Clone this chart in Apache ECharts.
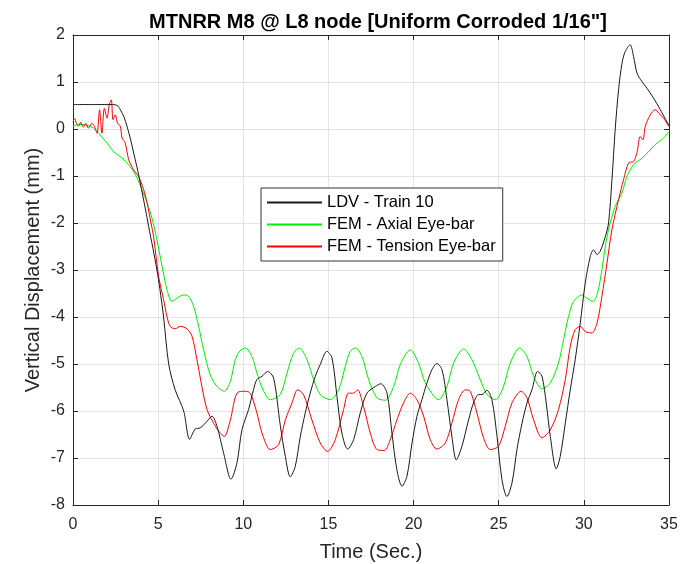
<!DOCTYPE html>
<html>
<head>
<meta charset="utf-8">
<script src="https://cdn.jsdelivr.net/npm/echarts@6/dist/echarts.min.js"></script>
<style>html,body{margin:0;padding:0;background:#fff}#c{width:692px;height:564px}</style>
</head>
<body>
<div id="c"></div>
<script>
var titleText = 'MTNRR M8 @ L8 node [Uniform Corroded 1/16"]';
var xName = 'Time (Sec.)';
var yName = 'Vertical Displacement (mm)';
var seriesNames = ['LDV - Train 10', 'FEM - Axial Eye-bar', 'FEM - Tension Eye-bar'];

var ldvT = [0,2.3,2.6,2.78,3.0,3.17,3.4,3.56,3.75,3.95,4.25,4.44,4.7,4.93,5.1,5.32,5.62,6.0,6.5,6.85,7.18,7.47,7.87,8.16,8.46,8.84,9.28,9.63,9.92,10.31,10.6,10.8,11.1,11.43,11.78,12.17,12.47,12.76,13.05,13.35,13.64,13.93,14.23,14.52,14.91,15.21,15.5,15.79,16.13,16.48,16.87,17.26,17.75,18.08,18.44,18.73,19.02,19.32,19.61,19.91,20.2,20.49,20.79,21.08,21.37,21.67,21.96,22.25,22.51,22.84,23.23,23.52,23.82,24.02,24.31,24.6,24.9,25.19,25.48,25.78,26.07,26.37,26.66,26.95,27.28,27.54,27.79,28.03,28.38,28.61,28.91,29.2,29.49,29.79,30.08,30.38,30.57,30.77,30.96,31.26,31.45,31.65,31.84,32.04,32.24,32.43,32.72,32.92,33.12,33.41,33.7,34.09,34.49,35.0];
var ldvV = [0.52,0.52,0.5,0.41,0.25,0.06,-0.25,-0.51,-0.8,-1.15,-1.7,-2.07,-2.55,-3.0,-3.4,-4.0,-5.0,-5.55,-6.0,-6.6,-6.38,-6.36,-6.22,-6.11,-6.33,-6.89,-7.45,-7.1,-6.4,-5.97,-5.55,-5.33,-5.26,-5.16,-5.3,-6.3,-6.97,-7.4,-7.18,-6.54,-6.04,-5.62,-5.26,-5.01,-4.73,-4.87,-5.69,-6.47,-6.81,-6.61,-6.04,-5.62,-5.48,-5.42,-5.62,-6.47,-7.25,-7.6,-7.39,-6.68,-6.11,-5.76,-5.4,-5.12,-4.99,-5.12,-5.76,-6.54,-7.04,-6.75,-6.19,-5.83,-5.65,-5.65,-5.56,-5.76,-6.54,-7.46,-7.82,-7.53,-6.82,-6.26,-5.83,-5.55,-5.16,-5.26,-5.83,-6.54,-7.23,-6.97,-6.26,-5.55,-4.91,-4.13,-3.28,-2.71,-2.57,-2.67,-2.6,-2.29,-2.0,-1.08,-0.01,0.84,1.4,1.65,1.79,1.54,1.19,1.01,0.87,0.66,0.41,0.07];

var axialT = [0,0.4,0.8,1.21,1.5,2.0,2.38,2.88,3.36,3.76,4.05,4.35,4.64,4.93,5.23,5.52,5.81,6.1,6.5,6.79,7.08,7.38,7.67,8.06,8.46,8.88,9.24,9.53,9.8,10.12,10.51,10.8,11.1,11.59,12.17,12.57,12.95,13.3,13.74,14.13,14.52,15.11,15.6,15.99,16.28,16.58,16.97,17.36,17.85,18.34,18.83,19.22,19.81,20.29,20.69,21.47,21.96,22.35,22.94,23.43,23.91,24.31,24.8,25.28,25.68,26.22,26.66,27.05,27.54,28.03,28.51,28.81,29.1,29.4,29.89,30.18,30.53,30.8,31.06,31.26,31.45,31.84,32.24,32.53,32.92,33.41,33.8,34.19,34.58,35.0];
var axialV = [0.06,0.1,0.08,0.02,-0.09,-0.3,-0.48,-0.62,-0.8,-1.04,-1.29,-1.57,-1.9,-2.36,-2.92,-3.42,-3.67,-3.6,-3.53,-3.56,-3.77,-4.2,-4.7,-5.23,-5.48,-5.58,-5.37,-4.91,-4.72,-4.66,-4.84,-5.19,-5.5,-5.76,-5.65,-5.19,-4.77,-4.66,-4.91,-5.33,-5.65,-5.76,-5.55,-5.05,-4.73,-4.66,-4.84,-5.33,-5.72,-5.77,-5.48,-5.01,-4.7,-4.98,-5.4,-5.76,-5.48,-4.98,-4.68,-4.91,-5.33,-5.65,-5.76,-5.48,-4.98,-4.66,-4.84,-5.26,-5.53,-5.4,-4.98,-4.48,-3.99,-3.67,-3.53,-3.6,-3.67,-3.49,-2.99,-2.5,-2.14,-1.65,-1.36,-1.01,-0.76,-0.62,-0.48,-0.33,-0.23,-0.06];

var tensionT = [0,0.1,0.2,0.33,0.45,0.6,0.75,0.9,1.11,1.25,1.41,1.56,1.7,1.84,2.0,2.13,2.25,2.35,2.48,2.62,2.78,2.88,3.07,3.27,3.56,3.85,4.15,4.35,4.58,4.73,5.03,5.32,5.52,5.71,6.0,6.3,6.69,6.99,7.28,7.57,7.87,8.26,8.6,8.88,9.24,9.63,10.12,10.41,10.8,11.1,11.59,12.07,12.47,12.86,13.19,13.54,14.03,14.52,14.95,15.4,15.89,16.18,16.48,16.71,17.06,17.46,17.85,18.28,18.63,19.02,19.41,19.81,20.2,20.59,20.98,21.37,21.86,22.25,22.64,23.04,23.33,23.72,24.11,24.5,24.99,25.38,25.78,26.32,26.66,27.05,27.54,28.03,28.51,28.91,29.2,29.49,29.79,30.08,30.47,30.77,31.06,31.36,31.65,32.04,32.33,32.63,32.92,33.12,33.31,33.47,33.61,33.9,34.19,34.39,34.68,35.0];
var tensionV = [0.16,0.22,0.12,0.06,0.14,0.04,0.12,0.02,0.12,0.06,-0.09,0.41,-0.09,0.44,0.23,0.52,0.62,0.2,0.3,0.12,0.06,-0.19,-0.3,-0.65,-0.87,-1.01,-1.29,-1.57,-2.0,-2.28,-3.14,-3.63,-3.99,-4.2,-4.25,-4.2,-4.25,-4.41,-4.91,-5.48,-5.97,-6.26,-6.45,-6.54,-6.19,-5.62,-5.58,-5.62,-6.04,-6.47,-6.82,-6.72,-6.19,-5.83,-5.55,-5.65,-6.19,-6.68,-6.86,-6.61,-5.97,-5.62,-5.62,-5.55,-5.9,-6.47,-6.82,-6.84,-6.61,-6.19,-5.83,-5.62,-5.76,-6.11,-6.61,-6.81,-6.68,-6.26,-5.76,-5.55,-5.58,-6.04,-6.57,-6.82,-6.75,-6.33,-5.83,-5.58,-5.72,-6.19,-6.57,-6.4,-5.97,-5.33,-4.63,-4.27,-4.2,-4.31,-4.34,-4.13,-3.56,-2.85,-2.14,-1.5,-1.08,-0.72,-0.69,-0.5,-0.16,-0.23,0.06,0.3,0.41,0.34,0.23,0.05];

function pairs(t, v) {
  var out = [];
  var n = Math.min(t.length, v.length);
  for (var i = 0; i < n; i++) out.push([t[i], v[i]]);
  return out;
}

var FONT = 'Liberation Sans, Arial, Helvetica, sans-serif';
var AX = '#262626';
var chart = echarts.init(document.getElementById('c'), null, {renderer: 'canvas'});

function axisBase() {
  return {
    axisLine: {show: true, onZero: false, lineStyle: {color: AX, width: 1}},
    axisTick: {show: true, inside: true, length: 5, lineStyle: {color: AX}},
    splitLine: {show: false}
  };
}

chart.setOption({
  animation: false,
  backgroundColor: '#ffffff',
  title: {
    text: titleText,
    left: 373, top: 7, textAlign: 'center',
    textStyle: {fontFamily: FONT, fontSize: 20, fontWeight: 'bold', color: '#000'}
  },
  grid: {left: 73, top: 35, width: 596, height: 470, containLabel: false, outerBoundsMode: 'none'},
  legend: {
    orient: 'vertical', left: 261, top: 188,
    backgroundColor: '#fff', borderColor: '#333', borderWidth: 1,
    padding: [6, 7, 6, 5], itemGap: 5, itemWidth: 55, itemHeight: 14,
    itemStyle: {opacity: 0},
    textStyle: {fontFamily: FONT, fontSize: 16.5, color: '#000'},
    data: seriesNames
  },
  xAxis: [
    Object.assign(axisBase(), {
      type: 'value', min: 0, max: 35, interval: 5, position: 'bottom',
      name: xName, nameLocation: 'middle', nameGap: 37, nameMoveOverlap: false,
      nameTextStyle: {fontFamily: FONT, fontSize: 20, color: AX},
      axisLabel: {fontFamily: FONT, fontSize: 16, color: AX, margin: 12},
      splitLine: {show: true, lineStyle: {color: '#e3e3e3', width: 1}}
    }),
    Object.assign(axisBase(), {
      type: 'value', min: 0, max: 35, interval: 5, position: 'top',
      axisLabel: {show: false}
    })
  ],
  yAxis: [
    Object.assign(axisBase(), {
      type: 'value', min: -8, max: 2, interval: 1, position: 'left',
      name: yName, nameLocation: 'middle', nameGap: 30, nameMoveOverlap: false,
      nameTextStyle: {fontFamily: FONT, fontSize: 20, color: AX},
      axisLabel: {fontFamily: FONT, fontSize: 16, color: AX, margin: 8},
      splitLine: {show: true, lineStyle: {color: '#e3e3e3', width: 1}}
    }),
    Object.assign(axisBase(), {
      type: 'value', min: -8, max: 2, interval: 1, position: 'right',
      axisLabel: {show: false}
    })
  ],
  series: [
    {name: seriesNames[0], type: 'line', data: pairs(ldvT, ldvV), showSymbol: false, symbol: 'none', smooth: 0.3,
     itemStyle: {color: '#1a1a1a'}, lineStyle: {color: '#1a1a1a', width: 1}, z: 3},
    {name: seriesNames[1], type: 'line', data: pairs(axialT, axialV), showSymbol: false, symbol: 'none', smooth: 0.3,
     itemStyle: {color: '#00ee00'}, lineStyle: {color: '#00ee00', width: 1}, z: 2},
    {name: seriesNames[2], type: 'line', data: pairs(tensionT, tensionV), showSymbol: false, symbol: 'none', smooth: 0.3,
     itemStyle: {color: '#ff0000'}, lineStyle: {color: '#ff0000', width: 1}, z: 2}
  ]
});
</script>
</body>
</html>
